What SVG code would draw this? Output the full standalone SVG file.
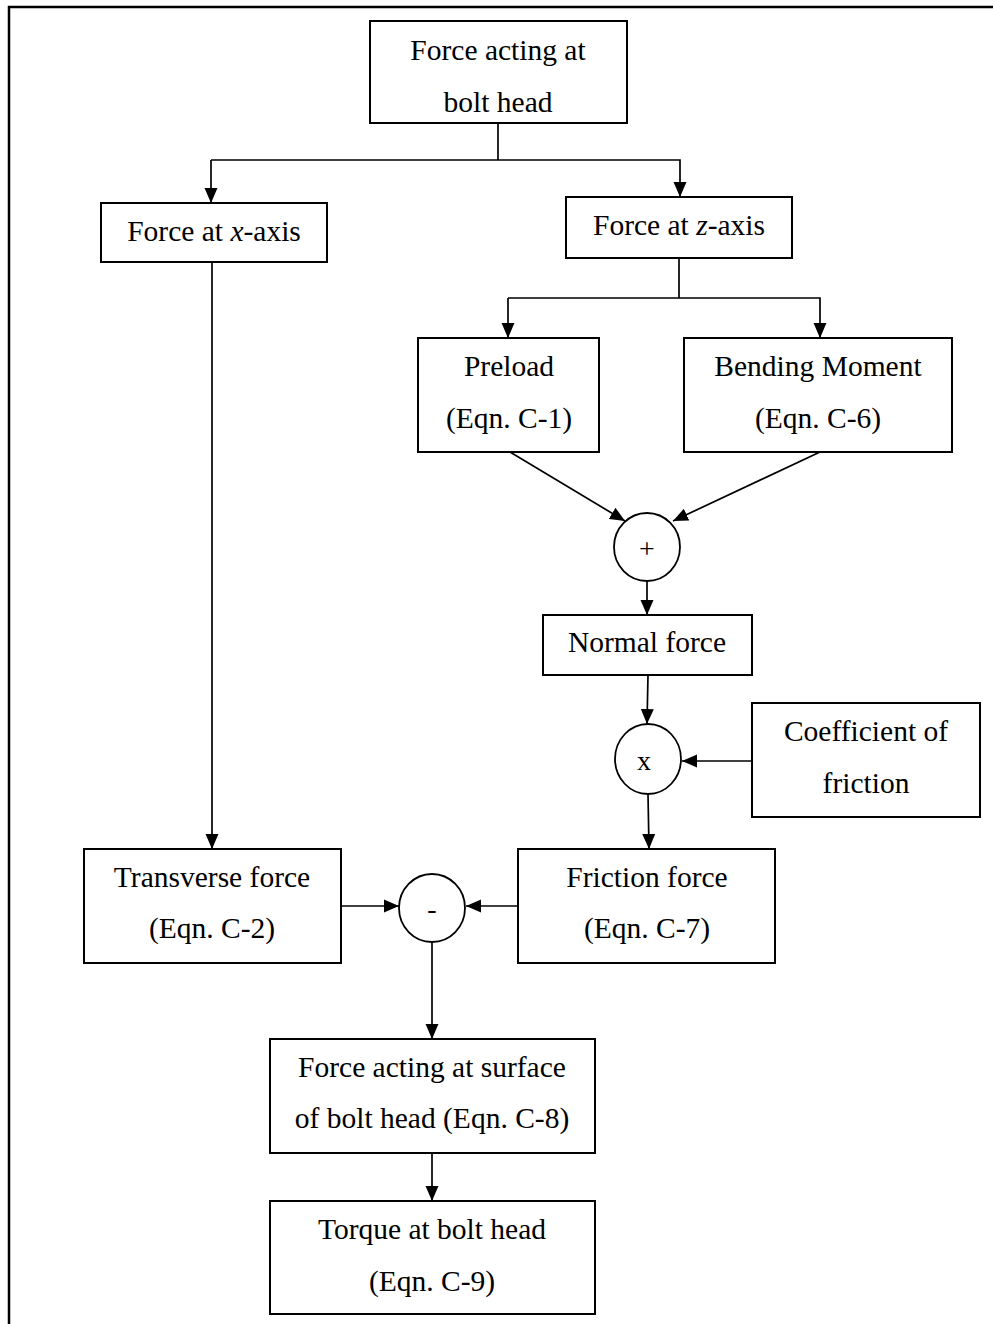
<svg xmlns="http://www.w3.org/2000/svg" width="993" height="1324" viewBox="0 0 993 1324">
  <style>
    .box { fill: #fff; stroke: #000; stroke-width: 2; }
    .op { fill: #fff; stroke: #000; stroke-width: 1.8; }
    .frame { fill: none; stroke: #000; stroke-width: 2.5; }
    .wire { fill: none; stroke: #000; stroke-width: 1.7; }
    .arr { fill: none; stroke: #000; stroke-width: 1.7; marker-end: url(#head); }
    text { font-family: "Liberation Serif", "Times New Roman", serif; font-size: 29.5px; fill: #000; text-anchor: middle; }
    .sym { font-size: 28px; }
  </style>
  <defs>
    <marker id="head" markerUnits="userSpaceOnUse" markerWidth="16" markerHeight="14" refX="15" refY="7" orient="auto">
      <path d="M0,0.5 L15,7 L0,13.5 Z" fill="#000"/>
    </marker>
  </defs>

  <rect width="993" height="1324" fill="#fff"/>

  <!-- page frame: top and left rules -->
  <path class="frame" d="M9,1324 V7 H993"/>

  <g id="connectors">
    <!-- split of the bolt-head force -->
    <path class="wire" d="M498,123 V160"/>
    <path class="arr" d="M211,160 H680 V197"/>
    <path class="arr" d="M211,160 V203"/>
    <!-- split of the z-axis force -->
    <path class="wire" d="M679,258 V298"/>
    <path class="arr" d="M508,298 H820 V338"/>
    <path class="arr" d="M508,298 V338"/>
    <!-- x-axis to transverse -->
    <path class="arr" d="M212,262 V849"/>
    <!-- into the sum -->
    <path class="arr" d="M510,452 L625,521"/>
    <path class="arr" d="M820,452 L673,521"/>
    <path class="arr" d="M647,580 V615"/>
    <!-- into the product -->
    <path class="arr" d="M648,675 L647,724"/>
    <path class="arr" d="M752,761 H682"/>
    <path class="arr" d="M648,794 L649,849"/>
    <!-- into the difference -->
    <path class="arr" d="M341,906 H399"/>
    <path class="arr" d="M518,906 H466"/>
    <path class="arr" d="M432,942 V1039"/>
    <!-- surface force to torque -->
    <path class="arr" d="M432,1153 V1201"/>
  </g>

  <g id="bolt-head-force">
    <rect class="box" x="370" y="21" width="257" height="102"/>
    <text x="498" y="60">Force acting at</text>
    <text x="498" y="112">bolt head</text>
  </g>

  <g id="x-axis-force">
    <rect class="box" x="101" y="203" width="226" height="59"/>
    <text x="214" y="241">Force at <tspan font-style="italic">x</tspan>-axis</text>
  </g>

  <g id="z-axis-force">
    <rect class="box" x="566" y="197" width="226" height="61"/>
    <text x="679" y="235">Force at <tspan font-style="italic">z</tspan>-axis</text>
  </g>

  <g id="preload">
    <rect class="box" x="418" y="338" width="181" height="114"/>
    <text x="509" y="376">Preload</text>
    <text x="509" y="428">(Eqn. C-1)</text>
  </g>

  <g id="bending-moment">
    <rect class="box" x="684" y="338" width="268" height="114"/>
    <text x="818" y="376">Bending Moment</text>
    <text x="818" y="428">(Eqn. C-6)</text>
  </g>

  <g id="sum">
    <ellipse class="op" cx="647" cy="547" rx="33" ry="34"/>
    <text class="sym" x="647" y="558">+</text>
  </g>

  <g id="normal-force">
    <rect class="box" x="543" y="615" width="209" height="60"/>
    <text x="647" y="652">Normal force</text>
  </g>

  <g id="product">
    <ellipse class="op" cx="648" cy="759" rx="33" ry="35"/>
    <text class="sym" x="644" y="770">x</text>
  </g>

  <g id="friction-coefficient">
    <rect class="box" x="752" y="703" width="228" height="114"/>
    <text x="866" y="741">Coefficient of</text>
    <text x="866" y="793">friction</text>
  </g>

  <g id="transverse-force">
    <rect class="box" x="84" y="849" width="257" height="114"/>
    <text x="212" y="887">Transverse force</text>
    <text x="212" y="938">(Eqn. C-2)</text>
  </g>

  <g id="difference">
    <ellipse class="op" cx="432" cy="908" rx="33" ry="34"/>
    <text class="sym" x="432" y="918">-</text>
  </g>

  <g id="friction-force">
    <rect class="box" x="518" y="849" width="257" height="114"/>
    <text x="647" y="887">Friction force</text>
    <text x="647" y="938">(Eqn. C-7)</text>
  </g>

  <g id="surface-force">
    <rect class="box" x="270" y="1039" width="325" height="114"/>
    <text x="432" y="1077">Force acting at surface</text>
    <text x="432" y="1128">of bolt head (Eqn. C-8)</text>
  </g>

  <g id="bolt-head-torque">
    <rect class="box" x="270" y="1201" width="325" height="113"/>
    <text x="432" y="1239">Torque at bolt head</text>
    <text x="432" y="1291">(Eqn. C-9)</text>
  </g>
</svg>
